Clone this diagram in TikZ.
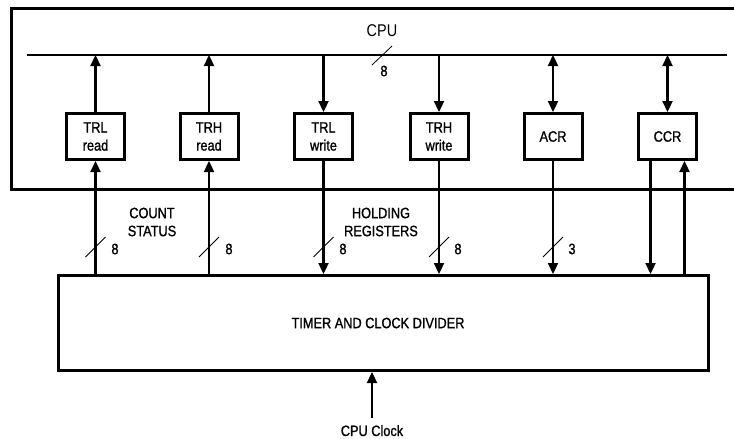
\documentclass[tikz,border=0pt]{standalone}
\usepackage{fontspec}
\setmainfont{Liberation Sans}[FakeStretch=0.85]
\newfontfamily\labelfont{Liberation Sans}[FakeStretch=0.85,FakeBold=1.2]
\usetikzlibrary{arrows.meta}
\begin{document}
\begin{tikzpicture}[x=1pt,y=-1pt,
  reg/.style={draw,line width=3pt,minimum width=58pt,minimum height=46pt,inner sep=0pt,align=center,font=\labelfont\fontsize{15}{18}\selectfont},
  conn/.style={line width=2.3pt},
  tip/.style={-{Triangle[width=10pt,length=11pt]}},
  both/.style={{Triangle[width=10pt,length=11pt]}-{Triangle[width=10pt,length=11pt]}},
  lbl/.style={font=\labelfont\fontsize{15}{18}\selectfont,align=center,inner sep=0pt},
  busslash/.style={line width=0.8pt}
]
\useasboundingbox (0,0) rectangle (734,439);
\clip (0,0) rectangle (734,439);

% CPU box (extends past right edge)
\node[draw,line width=2.8pt,minimum width=745pt,minimum height=181pt,anchor=north west,inner sep=0pt] (cpu) at (10,7) {};
\node[inner sep=0pt,font=\fontsize{17}{20}\selectfont] (cpulabel) at (382,31) {CPU};

% bus
\coordinate (busL) at (27,55);
\coordinate (busR) at (727,55);
\draw[line width=2.6pt] (busL) -- (busR);
\draw[busslash] (372,65) -- (392,46);
\node[lbl] (bus8) at (384,71) {8};

% registers
\node[reg] (trlr) at (95.5,136.5) {TRL\\read};
\node[reg] (trhr) at (209,136.5) {TRH\\read};
\node[reg] (trlw) at (323.5,136.5) {TRL\\write};
\node[reg] (trhw) at (439,136.5) {TRH\\write};
\node[reg] (acr) at (553,136.5) {ACR};
\node[reg] (ccr) at (667.5,136.5) {CCR};

% timer
\node[draw,line width=3pt,minimum width=650pt,minimum height=95pt,anchor=north west,inner sep=0pt] (timer) at (57,274) {};
\node[lbl] (timerlabel) at (378,323) {TIMER AND CLOCK DIVIDER};

% register <-> bus
\draw[conn,tip] (trlr.north) -- (trlr.north |- busL);
\draw[conn,tip] (trhr.north) -- (trhr.north |- busL);
\draw[conn,tip] (trlw.north |- busL) -- (trlw.north);
\draw[conn,tip] (trhw.north |- busL) -- (trhw.north);
\draw[conn,both] (acr.north |- busL) -- (acr.north);
\draw[conn,both] (ccr.north |- busL) -- (ccr.north);

% register <-> timer
\draw[conn,tip] (trlr.south |- timer.north) -- (trlr.south);
\draw[conn,tip] (trhr.south |- timer.north) -- (trhr.south);
\draw[conn,tip] (trlw.south) -- (trlw.south |- timer.north);
\draw[conn,tip] (trhw.south) -- (trhw.south |- timer.north);
\draw[conn,tip] (acr.south) -- (acr.south |- timer.north);
\draw[conn,tip] ([xshift=-17pt]ccr.south) -- ([xshift=-17pt]ccr.south |- timer.north);
\draw[conn,tip] ([xshift=17pt]ccr.south |- timer.north) -- ([xshift=17pt]ccr.south);

% width slashes and labels
\foreach \x in {95.5,209,323.5,439,553}{
  \draw[busslash] (\x-10,257) -- (\x+10,237);
}
\node[lbl] (n1) at (115,249) {8};
\node[lbl] (n2) at (229,249) {8};
\node[lbl] (n3) at (343,249) {8};
\node[lbl] (n4) at (458,249) {8};
\node[lbl] (n5) at (572,249) {3};

\node[lbl] (count) at (152,222) {COUNT\\STATUS};
\node[lbl] (holding) at (381,222) {HOLDING\\REGISTERS};

% clock
\coordinate (clkstart) at (372,418);
\draw[conn,tip] (clkstart) -- (clkstart |- timer.south);
\node[lbl,anchor=base] (clk) at (372,436) {CPU Clock};
\end{tikzpicture}
\end{document}
